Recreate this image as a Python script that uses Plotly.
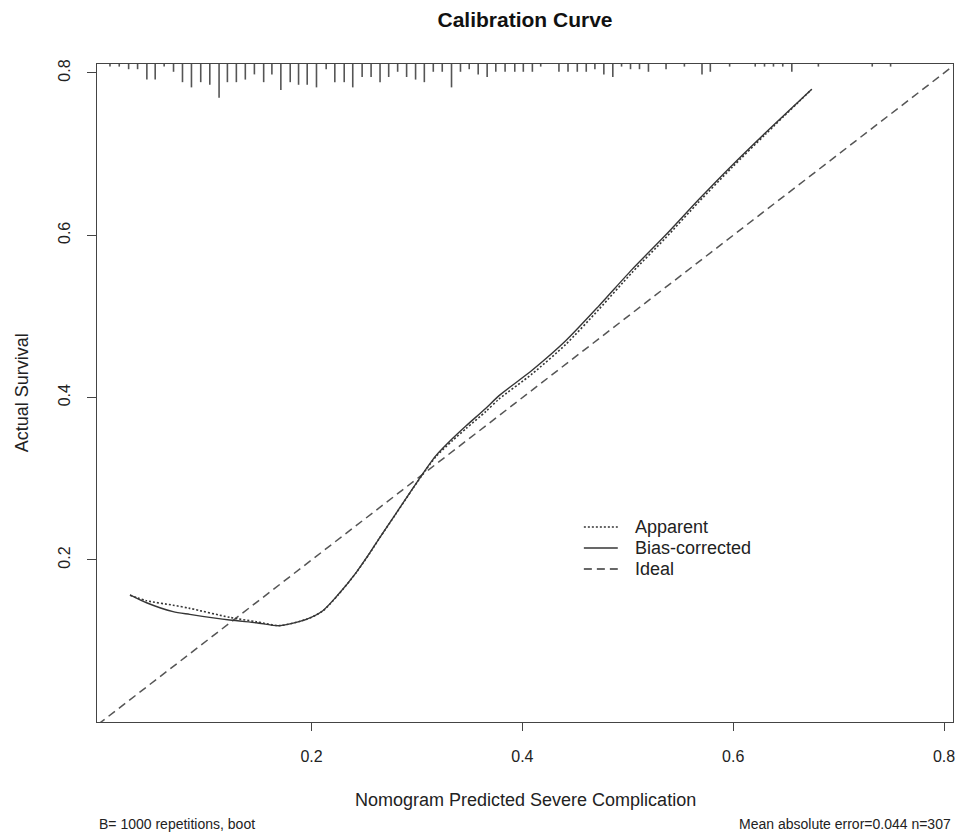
import plotly.graph_objects as go

# ---------------- data ----------------
predicted = [0.0278, 0.0435, 0.0687, 0.0845, 0.1224, 0.1477, 0.1697, 0.1950, 0.2107, 0.2249,
             0.2423, 0.2549, 0.2644, 0.2802, 0.2959, 0.3086, 0.3180, 0.3337, 0.3464, 0.3654,
             0.3779, 0.4095, 0.4411, 0.4726, 0.5041, 0.5357, 0.5673, 0.5988, 0.6304, 0.6745]
bias_corrected = [0.1571, 0.1473, 0.1363, 0.1330, 0.1260, 0.1227, 0.1190, 0.1269, 0.1375, 0.1568,
                  0.1845, 0.2080, 0.2270, 0.2575, 0.2880, 0.3120, 0.3285, 0.3495, 0.3650, 0.3870,
                  0.4025, 0.4340, 0.4700, 0.5130, 0.5580, 0.6000, 0.6440, 0.6860, 0.7260, 0.7799]
apparent = [0.1565, 0.1498, 0.1443, 0.1404, 0.1293, 0.1239, 0.1192, 0.1268, 0.1372, 0.1565,
            0.1842, 0.2077, 0.2267, 0.2571, 0.2875, 0.3113, 0.3273, 0.3471, 0.3617, 0.3830,
            0.3983, 0.4295, 0.4655, 0.5088, 0.5542, 0.5965, 0.6410, 0.6835, 0.7242, 0.7799]

# distribution of predicted risks (rug at the top): positions and frequencies
risk_values = [0.0088, 0.0176, 0.0265, 0.0350, 0.0438, 0.0517, 0.0602, 0.0691, 0.0776, 0.0861,
               0.0949, 0.1035, 0.1123, 0.1202, 0.1287, 0.1372, 0.1458, 0.1546, 0.1624, 0.1709,
               0.1798, 0.1877, 0.1959, 0.2047, 0.2139, 0.2221, 0.2310, 0.2391, 0.2480, 0.2565,
               0.2650, 0.2732, 0.2817, 0.2902, 0.2987, 0.3070, 0.3155, 0.3240, 0.3328, 0.3413,
               0.3496, 0.3581, 0.3666, 0.3748, 0.3836, 0.3928, 0.4009, 0.4095, 0.4174, 0.4347,
               0.4433, 0.4521, 0.4606, 0.4688, 0.4773, 0.4858, 0.4941, 0.5026, 0.5111, 0.5196,
               0.5363, 0.5537, 0.5704, 0.5783, 0.5966, 0.6209, 0.6297, 0.6382, 0.6470, 0.6556,
               0.6808, 0.7319, 0.7493]
risk_counts = [1, 1, 2, 2, 6, 6, 1, 3, 7, 9,
               7, 8, 13, 7, 7, 6, 4, 7, 4, 10,
               7, 8, 8, 9, 2, 7, 7, 9, 5, 5,
               7, 5, 3, 5, 6, 7, 3, 3, 9, 3,
               2, 4, 5, 3, 3, 3, 3, 3, 1, 3,
               3, 3, 3, 2, 4, 5, 1, 2, 2, 3,
               2, 1, 4, 3, 1, 1, 1, 1, 1, 3,
               1, 1, 1]

ideal = [-0.1, 1.0]
tick_values = [0.2, 0.4, 0.6, 0.8]
tick_labels = ["0.2", "0.4", "0.6", "0.8"]

title_text = "Calibration Curve"
x_title = "Nomogram Predicted Severe Complication"
y_title = "Actual Survival"
note_left = "B= 1000 repetitions, boot"
note_right = "Mean absolute error=0.044 n=307"
legend_names = ["Apparent", "Bias-corrected", "Ideal"]

# ---------------- styling / layout ----------------
W, H = 962, 836
L, R, T, B = 97, 7, 64, 114
x_range = [-0.0035, 0.8085]
y_range = [0.0004, 0.8110]
FONT = "Liberation Sans, Arial, Helvetica, sans-serif"
INK = "#222222"
LINE = "#363636"

rug_unit = 0.0032  # data-units of tick length per observation
rug_x, rug_y = [], []
for v, c in zip(risk_values, risk_counts):
    rug_x += [v, v, None]
    rug_y += [y_range[1], y_range[1] - c * rug_unit, None]

dash_app = "2px,2px"
dash_ideal = "8px,5px"

fig = go.Figure()
fig.add_trace(go.Scatter(x=rug_x, y=rug_y, mode="lines", name="risk distribution",
                         line=dict(color="#555555", width=1.6), hoverinfo="skip",
                         showlegend=False))
fig.add_trace(go.Scatter(x=ideal, y=ideal, mode="lines", name=legend_names[2],
                         line=dict(color="#555555", width=1.5, dash=dash_ideal),
                         showlegend=False))
fig.add_trace(go.Scatter(x=predicted, y=apparent, mode="lines", name=legend_names[0],
                         line=dict(color=LINE, width=1.6, dash=dash_app, shape="spline", smoothing=0.7),
                         showlegend=False))
fig.add_trace(go.Scatter(x=predicted, y=bias_corrected, mode="lines", name=legend_names[1],
                         line=dict(color=LINE, width=1.4, shape="spline", smoothing=0.7),
                         showlegend=False))

pw, ph = W - L - R, H - T - B
def px(xp):
    return (xp - L) / pw
def py(yp):
    return (H - B - yp) / ph

# manual legend (R-style, no box)
leg_rows = [527, 548, 569]
leg_dash = [dash_app, "solid", dash_ideal]
leg_w = [1.6, 1.4, 1.5]
shapes = []
annotations = []
for name, yy, d, w in zip(legend_names, leg_rows, leg_dash, leg_w):
    shapes.append(dict(type="line", xref="paper", yref="paper",
                       x0=px(585), x1=px(619), y0=py(yy), y1=py(yy),
                       line=dict(color=LINE, width=w, dash=d)))
    annotations.append(dict(text=name, xref="paper", yref="paper", x=px(634), y=py(yy),
                            xanchor="left", yanchor="middle", showarrow=False,
                            font=dict(family=FONT, size=18, color=INK)))

annotations += [
    dict(text=x_title, xref="paper", yref="paper", x=0.5, y=py(800), xanchor="center",
         yanchor="middle", showarrow=False, font=dict(family=FONT, size=18, color=INK)),
    dict(text=y_title, xref="paper", yref="paper", x=px(22), y=0.5, xanchor="center",
         yanchor="middle", textangle=-90, showarrow=False,
         font=dict(family=FONT, size=18, color=INK)),
    dict(text=note_left, xref="paper", yref="paper", x=0, y=py(824), xanchor="left",
         yanchor="middle", showarrow=False, font=dict(family=FONT, size=14, color=INK)),
    dict(text=note_right, xref="paper", yref="paper", x=1, y=py(824), xanchor="right",
         yanchor="middle", showarrow=False, font=dict(family=FONT, size=14, color=INK)),
]

axis_common = dict(showgrid=False, zeroline=False, showline=True, mirror=True,
                   linecolor="#444444", linewidth=1.3, ticks="outside", tickcolor="#444444",
                   tickwidth=1.3, tickvals=tick_values, ticktext=tick_labels,
                   tickfont=dict(family=FONT, size=16, color=INK))

fig.update_layout(
    width=W, height=H,
    margin=dict(l=L, r=R, t=T, b=B, pad=0),
    paper_bgcolor="white", plot_bgcolor="white",
    title=dict(text=title_text, x=0.5, xref="paper", xanchor="center",
               y=1 - 20 / H, yref="container", yanchor="middle",
               font=dict(family=FONT, size=21, color="#111111", weight="bold")),
    xaxis=dict(range=x_range, ticklen=8, ticklabelstandoff=12, **axis_common),
    yaxis=dict(range=y_range, ticklen=9, tickangle=-90, ticklabelstandoff=10, **axis_common),
    shapes=shapes,
    annotations=annotations,
    showlegend=False,
)

fig.write_html("out.html")
